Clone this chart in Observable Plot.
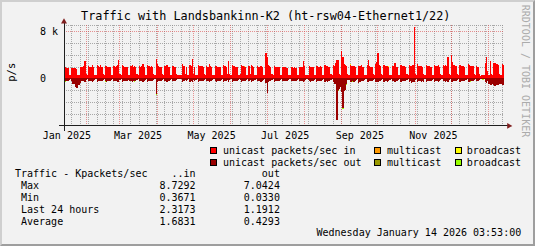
<!DOCTYPE html>
<html>
<head>
<meta charset="utf-8">
<script src="https://cdn.jsdelivr.net/npm/d3@7"></script>
<script src="https://cdn.jsdelivr.net/npm/@observablehq/plot@0.6"></script>
<style>
  html, body { margin:0; padding:0; background:#F2F2F2; }
  #chart { position:relative; width:535px; height:246px; background:#F2F2F2; overflow:hidden;
           font-family:"DejaVu Sans Mono", monospace; color:#000; }
  #chart > svg { position:absolute; left:0; top:0; }
  .txt { position:absolute; white-space:pre; line-height:1; font-size:10px; }
  .sw { position:absolute; width:7px; height:7px; box-sizing:border-box; border:1px solid #000; }
  #frame { position:absolute; left:0; top:0; width:535px; height:246px; box-sizing:border-box;
           border:2px solid; border-color:#CFCFCF #9E9E9E #9E9E9E #CFCFCF; pointer-events:none; }
</style>
</head>
<body>
<div id="chart"></div>
<script>
// ---------------- data (Kpackets/sec, daily, weeks Mon..Sun from 2025-01-13) ----------------
const startDate = "2025-01-13";
const domainStart = "2025-01-14";
const domainEnd = "2026-01-14";

const unicastInWeeks = [
  [1.9,1.8,1.85,1.75,1.7,0.6,0.55],
  [1.75,1.8,1.7,1.75,1.65,0.6,0.55],
  [2.0,1.9,1.95,2.1,3.0,0.7,0.6],
  [2.1,2.0,1.95,2.2,1.9,0.65,0.6],
  [2.2,2.05,1.95,2.3,1.9,0.7,0.6],
  [2.05,2.1,1.95,1.9,1.85,0.65,0.6],
  [2.15,2.0,2.05,2.25,3.2,0.7,0.6],
  [2.3,2.05,2.0,1.95,1.9,0.65,0.6],
  [2.1,2.25,1.95,2.05,1.85,0.7,0.6],
  [2.15,2.0,2.05,2.4,1.95,0.65,0.55],
  [2.25,2.05,1.95,2.1,1.9,0.7,0.6],
  [3.3,2.5,2.05,2.0,1.95,0.7,0.6],
  [2.15,2.05,2.35,2.0,1.85,0.65,0.6],
  [2.05,1.95,1.9,0.7,0.6,0.55,0.5],
  [0.6,2.4,2.15,0.7,1.85,0.65,0.6],
  [2.25,2.05,3.3,0.7,1.95,0.65,0.6],
  [2.35,2.1,2.05,2.15,1.9,0.7,0.6],
  [2.15,2.0,2.5,2.05,1.85,0.65,0.6],
  [2.1,2.15,2.0,1.95,1.85,0.65,0.6],
  [2.25,2.05,2.0,0.7,2.9,0.7,0.6],
  [2.35,2.15,2.05,2.0,1.9,0.65,0.6],
  [0.7,2.35,2.05,2.0,1.85,0.65,0.6],
  [2.15,0.7,2.25,2.05,1.9,0.65,0.6],
  [2.05,2.0,1.95,2.05,1.85,0.65,0.6],
  [4.3,3.6,2.25,2.05,1.95,0.7,0.6],
  [2.15,2.0,1.95,1.9,1.85,0.65,0.6],
  [1.95,1.9,1.85,1.8,1.75,0.6,0.55],
  [1.9,1.85,1.8,1.85,1.75,0.6,0.55],
  [1.95,1.9,1.85,3.0,2.05,0.65,0.6],
  [0.65,2.05,2.0,1.95,1.9,0.65,0.6],
  [2.15,2.05,2.0,2.1,1.95,0.65,0.6],
  [2.25,2.15,2.05,2.0,1.95,0.7,0.6],
  [2.35,2.15,2.6,3.1,3.2,0.75,0.65],
  [4.6,3.6,2.45,2.25,2.05,0.7,0.6],
  [2.25,2.1,2.05,2.15,1.95,0.65,0.6],
  [2.15,2.05,2.35,2.0,1.9,0.65,0.6],
  [2.25,3.1,2.05,2.0,1.95,0.7,0.6],
  [2.45,2.7,4.3,2.35,2.05,0.7,0.6],
  [2.25,2.15,2.1,2.05,2.0,0.65,0.6],
  [2.15,2.05,2.6,2.0,1.95,0.65,0.6],
  [2.25,2.15,2.05,2.1,2.0,0.7,0.6],
  [2.35,2.15,2.05,2.25,8.73,0.75,0.6],
  [2.45,2.15,2.1,2.05,2.0,0.7,0.6],
  [2.25,2.15,2.1,2.05,1.95,0.65,0.6],
  [2.35,2.15,2.05,2.2,2.0,0.7,0.6],
  [2.25,2.15,2.35,2.1,3.7,0.7,0.6],
  [4.0,2.7,2.25,2.1,2.05,0.7,0.6],
  [2.35,2.15,2.05,2.1,2.0,0.65,0.6],
  [2.45,2.25,2.15,2.1,2.05,0.7,0.6],
  [2.15,1.95,0.7,0.37,0.5,0.5,0.5],
  [2.6,3.6,1.3,0.6,2.9,0.7,0.6],
  [2.55,2.65,2.5,2.45,2.35,0.7,0.6],
  [2.5,2.32]
];

const unicastOutWeeks = [
  [0.45,0.5,0.45,0.5,0.45,0.2,0.15],
  [0.5,0.9,0.9,1.5,1.65,1.6,1.1],
  [0.75,0.5,0.45,0.5,0.55,0.2,0.15],
  [0.5,0.45,0.5,0.55,0.45,0.2,0.15],
  [0.55,0.5,0.45,0.5,0.45,0.2,0.15],
  [0.5,0.55,0.45,0.5,0.45,0.2,0.15],
  [0.5,0.45,0.5,0.55,0.6,0.2,0.15],
  [0.55,0.5,0.45,0.5,0.45,0.2,0.5],
  [0.5,0.55,0.45,0.5,0.45,0.2,0.15],
  [0.5,0.45,0.5,0.6,0.45,0.2,0.15],
  [0.55,0.5,0.45,0.5,0.45,0.2,0.15],
  [2.7,0.6,0.5,0.45,0.5,0.2,0.15],
  [0.5,0.45,0.55,0.5,0.45,0.2,0.15],
  [0.5,0.45,0.45,0.2,0.15,0.15,0.15],
  [0.15,0.55,0.5,0.2,0.45,0.2,0.15],
  [0.55,0.5,0.6,0.2,0.45,0.2,0.15],
  [0.55,0.5,0.45,0.5,0.45,0.2,0.15],
  [0.5,0.45,0.6,0.5,0.45,0.2,0.15],
  [0.5,0.55,0.45,0.5,0.45,0.2,0.15],
  [0.55,0.5,0.45,0.2,0.55,0.2,0.15],
  [0.55,0.5,0.45,0.5,0.45,0.2,0.15],
  [0.2,0.55,0.5,0.45,0.45,0.2,0.15],
  [0.5,0.2,0.55,0.5,0.45,0.2,0.15],
  [0.5,0.45,0.5,0.55,0.45,0.2,0.15],
  [0.85,2.45,0.6,0.5,0.45,0.2,0.15],
  [0.55,0.5,0.45,0.5,0.45,0.2,0.15],
  [0.45,0.5,0.45,0.4,0.45,0.2,0.15],
  [0.45,0.4,0.45,0.5,0.4,0.2,0.15],
  [0.5,0.45,0.5,0.6,0.5,0.2,0.15],
  [0.2,0.5,0.55,0.5,0.45,0.2,0.15],
  [0.55,0.5,0.45,0.5,0.45,0.2,0.15],
  [0.55,0.5,0.55,0.5,0.45,0.2,0.15],
  [0.6,0.9,1.0,7.04,2.0,1.8,1.5],
  [2.3,5.05,2.2,1.9,1.0,0.3,0.2],
  [0.6,0.55,0.5,0.55,0.5,0.2,0.15],
  [0.85,0.55,0.5,0.5,0.45,0.2,0.15],
  [0.55,0.6,0.5,0.5,0.45,0.2,0.15],
  [0.55,0.6,0.7,0.5,0.45,0.2,0.15],
  [0.55,0.5,0.5,0.55,0.45,0.2,0.15],
  [0.5,0.5,0.55,0.5,0.45,0.2,0.15],
  [0.55,0.5,0.5,0.5,0.45,0.2,0.15],
  [0.55,0.5,0.85,0.55,0.6,0.2,0.15],
  [0.55,0.5,0.5,0.55,0.5,0.7,0.15],
  [0.55,0.5,0.5,0.5,0.45,0.2,0.15],
  [0.55,0.5,0.5,0.55,0.45,0.2,0.15],
  [0.5,0.5,0.55,0.5,0.6,0.2,0.15],
  [0.65,0.55,0.5,0.5,0.45,0.2,0.15],
  [0.55,0.5,0.5,0.5,0.45,0.2,0.15],
  [0.6,0.55,0.5,0.5,0.45,0.2,0.15],
  [0.5,0.45,0.2,0.033,0.1,0.1,0.15],
  [0.6,0.8,0.4,1.0,1.1,1.05,0.95],
  [1.2,1.25,1.15,1.2,1.1,1.0,0.95],
  [1.2,1.19]
];

const multicastInDates  = ["2025-06-12", "2025-10-22"];
const multicastInValues = [0.04, 0.05];
const broadcastInDates  = ["2025-09-08", "2025-10-10"];
const broadcastInValues = [0.12, 0.12];
const multicastOutDates  = ["2025-08-29"];
const multicastOutValues = [0.08];
const broadcastOutDates  = ["2025-01-15","2025-02-17","2025-03-13","2025-03-31","2025-09-02","2025-09-05","2025-09-10","2025-12-17","2025-12-27"];
const broadcastOutValues = [0.15, 0.15, 0.12, 0.1, 0.12, 0.15, 0.15, 0.12, 0.12];

const xTickDates = ["2025-01-16","2025-03-16","2025-05-16","2025-07-16","2025-09-16","2025-11-16"];
const yMajorTicks = [8000, 0];
const yMinorTicks = [-6000, -4000, -2000, 2000, 4000, 6000, 9000];

const legendRows = [
  [["unicast packets/sec in", "#FF0000"], ["multicast", "#FF9900"], ["broadcast", "#FFFF00"]],
  [["unicast packets/sec out", "#990000"], ["multicast", "#999900"], ["broadcast", "#99FF00"]]
];
const statHeader = ["Traffic - Kpackets/sec", "..in", "out"];
const statLabels = ["Max", "Min", "Last 24 hours", "Average"];
const statIn  = ["8.7292", "0.3671", "2.3173", "1.6831"];
const statOut = ["7.0424", "0.0330", "1.1912", "0.4293"];
const titleText = "Traffic with Landsbankinn-K2 (ht-rsw04-Ethernet1/22)";
const yLabel = "p/s";
const dateText = "Wednesday January 14 2026 03:53:00";
const sideText = "RRDTOOL / TOBI OETIKER";

// ---------------- build rows ----------------
const unicastIn = unicastInWeeks.flat();
const unicastOut = unicastOutWeeks.flat();
const utc = s => new Date(s + "T00:00:00Z");
const fmtKey = d3.utcFormat("%Y-%m-%d");
const toMap = (ds, vs) => new Map(ds.map((d, i) => [d, vs[i]]));
const mIn = toMap(multicastInDates, multicastInValues);
const bIn = toMap(broadcastInDates, broadcastInValues);
const mOut = toMap(multicastOutDates, multicastOutValues);
const bOut = toMap(broadcastOutDates, broadcastOutValues);
const t0 = utc(startDate);
const n = unicastIn.length;
const rows = [];
for (let i = 0; i <= n; i++) {
  const j = Math.min(i, n - 1);
  const key = fmtKey(d3.utcDay.offset(t0, j));
  const ui = unicastIn[j] * 1000, mi = (mIn.get(key) || 0) * 1000, bi = (bIn.get(key) || 0) * 1000;
  const uo = unicastOut[j] * 1000, mo = (mOut.get(key) || 0) * 1000, bo = (bOut.get(key) || 0) * 1000;
  rows.push({date: d3.utcDay.offset(t0, i),
    a: ui, b: ui + mi, c: ui + mi + bi,
    d: -uo, e: -uo - mo, f: -uo - mo - bo});
}

const x0 = utc(domainStart), x1 = utc(domainEnd);
const weekLines = d3.utcMonday.range(x0, x1);
const monthLines = d3.utcMonth.range(d3.utcDay.offset(x0, 1), x1);

const gridGray = "rgb(143,143,143)";
const gridRed = "rgb(222,79,79)";
const arrowCol = "#801F1F";
const axisCol = "#1F1F1F";
const area = (y1, y2, fill) => Plot.areaY(rows, {x: "date", y1, y2, curve: "step-after", fill, clip: true, shapeRendering: "crispEdges"});

const svg = Plot.plot({
  width: 535, height: 246,
  marginLeft: 64, marginRight: 31, marginTop: 25.4, marginBottom: 120.6,
  x: {type: "utc", domain: [x0, x1], ticks: xTickDates.map(utc), tickFormat: d3.utcFormat("%b %Y"),
      tickSize: 0, tickPadding: 5.9, label: null},
  y: {domain: [-8000, 9000], ticks: yMajorTicks, tickSize: 0, tickPadding: 6.5, label: null,
      tickFormat: v => v === 0 ? "0\u00a0\u00a0" : (v / 1000) + " k"},
  style: {background: "transparent", fontFamily: "DejaVu Sans Mono", fontSize: "10px", color: "#000", overflow: "visible"},
  marks: [
    Plot.ruleX(weekLines, {stroke: gridGray, strokeOpacity: 0.75, strokeDasharray: "1,1", shapeRendering: "crispEdges"}),
    Plot.ruleY(yMinorTicks, {stroke: gridGray, strokeOpacity: 0.75, strokeDasharray: "1,1", shapeRendering: "crispEdges"}),
    Plot.ruleX(monthLines, {stroke: gridRed, strokeOpacity: 0.6, strokeDasharray: "1,1", shapeRendering: "crispEdges"}),
    Plot.ruleY(yMajorTicks, {stroke: gridRed, strokeOpacity: 0.6, strokeDasharray: "1,1", shapeRendering: "crispEdges"}),
    area(0, "a", "#FF0000"),
    area("a", "b", "#FF9900"),
    area("b", "c", "#FFFF00"),
    area(0, "d", "#990000"),
    area("d", "e", "#999900"),
    area("e", "f", "#99FF00"),
    // axes with arrows
    Plot.ruleX([x0], {y1: -8950, y2: 9600, stroke: axisCol, dx: -0.5, shapeRendering: "crispEdges"}),
    Plot.ruleY([-8000], {x1: d3.utcDay.offset(x0, -4), x2: d3.utcDay.offset(x1, 3), stroke: axisCol, shapeRendering: "crispEdges"}),
    Plot.dot([{x: x0, y: 9700}], {x: "x", y: "y", symbol: "triangle", r: 2.2, fill: arrowCol, stroke: "none", dx: -0.5}),
    Plot.dot([{x: d3.utcHour.offset(x1, 88), y: -8000}], {x: "x", y: "y", symbol: "triangle", r: 2.2, fill: arrowCol, stroke: "none", rotate: 90})
  ]
});
const chart = document.getElementById("chart");
chart.appendChild(svg);

// ---------------- text overlays ----------------
const BASE = 0.846; // baseline offset (em) for line-height 1
function addText(str, left, baseline, fs, extra) {
  const el = document.createElement("div");
  el.className = "txt";
  el.textContent = str;
  el.style.fontSize = fs + "px";
  el.style.left = left + "px";
  el.style.top = (baseline - BASE * fs) + "px";
  if (extra) Object.assign(el.style, extra);
  chart.appendChild(el);
  return el;
}
function addRotated(str, cx, cy, fs, deg, color) {
  const el = document.createElement("div");
  el.className = "txt";
  el.textContent = str;
  el.style.fontSize = fs + "px";
  el.style.color = color;
  chart.appendChild(el);
  const w = el.offsetWidth, h = el.offsetHeight;
  el.style.left = (cx - w / 2) + "px";
  el.style.top = (cy - h / 2) + "px";
  el.style.transform = "rotate(" + deg + "deg)";
  return el;
}

// title
const tEl = addText(titleText, 0, 21, 11.8);
tEl.style.left = (265.6 - tEl.offsetWidth / 2) + "px";
// y label
addRotated(yLabel, 11.7, 72.7, 10.5, -90, "#000");
// side watermark
addRotated(sideText, 524.5, 71, 10, 90, "#ABABAB");

// legend
const legendCols = [[210, 223], [374, 387], [454.5, 466.8]];
const legendBase = [154.1, 166.3];
legendRows.forEach((row, r) => {
  row.forEach(([label, color], c) => {
    const sw = document.createElement("div");
    sw.className = "sw";
    sw.style.left = legendCols[c][0] + "px";
    sw.style.top = (legendBase[r] - 7.1) + "px";
    sw.style.background = color;
    chart.appendChild(sw);
    addText(label, legendCols[c][1], legendBase[r], 10);
  });
});

// stats table
const pad = (s, n) => s.padStart(n, " ");
const lines = [statHeader[0] + pad(statHeader[1], 8) + pad(statHeader[2], 14)];
statLabels.forEach((l, i) => {
  const left = " " + l;
  lines.push(left + pad(statIn[i], 30 - left.length) + pad(statOut[i], 14));
});
lines.forEach((ln, i) => addText(ln, 15, 177.5 + 12 * i, 10));

// date stamp (right aligned)
const dEl = addText(dateText, 0, 236.4, 10);
dEl.style.left = (521.5 - dEl.offsetWidth) + "px";

const frame = document.createElement("div");
frame.id = "frame";
chart.appendChild(frame);
</script>
</body>
</html>
